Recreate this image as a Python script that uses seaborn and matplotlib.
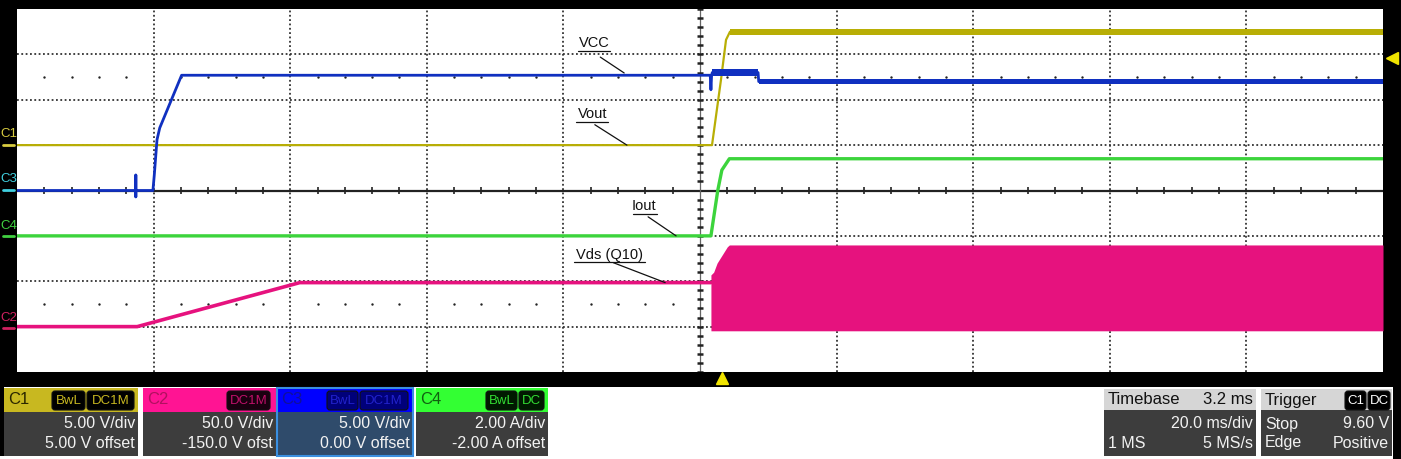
import matplotlib.pyplot as plt
import seaborn as sns
from matplotlib.patches import Rectangle, FancyBboxPatch

sns.set_style("white")
plt.rcParams['font.family'] = ['Liberation Sans', 'DejaVu Sans']

# === scope settings ===
# displayed divisions = (value + offset) / scale
ch_scale = {'C1': 5.0, 'C2': 50.0, 'C3': 5.0, 'C4': 2.0}
ch_offset = {'C1': 5.0, 'C2': -150.0, 'C3': 0.0, 'C4': -2.0}
ms_per_div = 20.0
trig_delay_ms = 3.2
trig_level_v = 9.60

# === traces (time in ms) ===
# C1 - Vout (V)
vout_t = [-100, 1.76, 3.07, 3.81, 4.39, 100]
vout_v = [0.0, 0.0, 7.2, 11.6, 12.5, 12.5]
vout_band_t = [4.4, 100]
vout_band_lo = [12.15, 12.15]
vout_band_hi = [12.85, 12.85]

# C3 - VCC (V)
vcc_t = [-100, -82.6, -82.6, -82.6, -82.6, -80.1, -79.9, -79.5, -79.1, -75.9,
         1.5, 1.6, 1.7, 1.8, 8.5, 8.6, 100]
vcc_v = [0.0, 0.0, 1.7, -0.7, 0.0, 0.0, 1.7, 5.6, 6.9, 12.7,
         12.7, 11.1, 12.7, 13.0, 13.0, 12.0, 12.0]
vcc_band1_t = [1.8, 8.5]
vcc_band1_lo = [12.6, 12.6]
vcc_band1_hi = [13.35, 13.35]
vcc_band2_t = [8.6, 100]
vcc_band2_lo = [11.7, 11.7]
vcc_band2_hi = [12.3, 12.3]

# C4 - Iout (A)
iout_t = [-100, 1.6, 2.6, 3.2, 4.3, 100]
iout_a = [0.0, 0.0, 2.0, 2.9, 3.4, 3.4]

# C2 - Vds (Q10) (V)
vds_t = [-100, -82.4, -58.6, 1.6]
vds_v = [0.0, 0.0, 48.5, 48.5]
sw_t = [1.6, 2.0, 2.5, 4.0, 4.3, 100]
sw_top = [57, 60, 70, 88, 90, 90]
sw_bot = [-4.6, -4.6, -4.6, -4.6, -4.6, -4.6]


def to_div(ch, vals):
    return [(v + ch_offset[ch]) / ch_scale[ch] for v in vals]


col_c1 = '#b8ae05'
col_c2 = '#e6127e'
col_c3 = '#1030c0'
col_c4 = '#3cd43c'

W, H = 1401, 459
fig = plt.figure(figsize=(W / 100, H / 100), dpi=100)
fig.patch.set_facecolor('white')

# === main scope screen ===
ax = fig.add_axes([17 / W, (H - 372) / H, (1383 - 17) / W, (372 - 9) / H])
ax.set_zorder(2)
ax.set_xlim(-5 * ms_per_div, 5 * ms_per_div)
ax.set_ylim(-4, 4)
ax.axis('off')
ax.patch.set_visible(True)
ax.set_facecolor('white')

grid_kw = dict(color='#333333', lw=1.3, ls=(0, (1, 1.4)), zorder=1)
for k in range(-4, 5):
    if k != 0:
        ax.axvline(k * ms_per_div, **grid_kw)
for k in range(-3, 4):
    if k != 0:
        ax.axhline(k, **grid_kw)
ax.axhline(0, color='#222222', lw=1.6, zorder=1)
ax.axvline(0, color='#666666', lw=0.9, zorder=1)

minor_t = [i * ms_per_div / 5 for i in range(-25, 26)]
minor_y = [i / 5 for i in range(-20, 21)]
ax.vlines([t for t in minor_t if t % ms_per_div != 0], -0.08, 0.08, color='#222222', lw=1.2, zorder=1)
ax.hlines([y for y in minor_y if y != 0], -0.45, 0.45, color='#222222', lw=1.8, zorder=1)
dot_t = [t for t in minor_t if t % ms_per_div != 0]
ax.scatter(dot_t, [2.5] * len(dot_t), s=3, color='#222222', zorder=1, linewidths=0)
ax.scatter(dot_t, [-2.5] * len(dot_t), s=3, color='#222222', zorder=1, linewidths=0)

# traces
ax.fill_between(sw_t, to_div('C2', sw_bot), to_div('C2', sw_top), color=col_c2, lw=0, zorder=3)
sns.lineplot(x=vds_t, y=to_div('C2', vds_v), estimator=None, sort=False, ax=ax,
             color=col_c2, lw=2.6, zorder=3)
sns.lineplot(x=iout_t, y=to_div('C4', iout_a), estimator=None, sort=False, ax=ax,
             color=col_c4, lw=2.4, zorder=3)
ax.fill_between(vout_band_t, to_div('C1', vout_band_lo), to_div('C1', vout_band_hi),
                color=col_c1, lw=0, zorder=3)
sns.lineplot(x=vout_t, y=to_div('C1', vout_v), estimator=None, sort=False, ax=ax,
             color=col_c1, lw=1.6, zorder=3)
ax.fill_between(vcc_band1_t, to_div('C3', vcc_band1_lo), to_div('C3', vcc_band1_hi),
                color=col_c3, lw=0, zorder=4)
ax.fill_between(vcc_band2_t, to_div('C3', vcc_band2_lo), to_div('C3', vcc_band2_hi),
                color=col_c3, lw=0, zorder=4)
sns.lineplot(x=vcc_t, y=to_div('C3', vcc_v), estimator=None, sort=False, ax=ax,
             color=col_c3, lw=2.0, zorder=4)

# annotations: (label, text pos, underline x-range, underline y, leader start, leader end)
labels = [
    ('VCC', (-15.5, 3.25), (-17.8, -13.2), 3.08, (-14.6, 2.94), (-11.1, 2.59)),
    ('Vout', (-15.7, 1.69), (-18.2, -13.5), 1.51, (-15.4, 1.45), (-10.7, 1.0)),
    ('Iout', (-8.2, -0.34), (-9.8, -6.3), -0.51, (-7.6, -0.58), (-3.5, -1.0)),
    ('Vds (Q10)', (-13.2, -1.42), (-18.4, -8.0), -1.57, (-12.7, -1.59), (-5.1, -2.03)),
]
for txt, pos, ux, uy, p0, p1 in labels:
    ax.text(pos[0], pos[1], txt, ha='center', va='center', fontsize=10.5, color='#111111', zorder=6)
    ax.plot(ux, [uy, uy], color='#111111', lw=0.9, zorder=6)
    ax.plot([p0[0], p1[0]], [p0[1], p1[1]], color='#111111', lw=0.9, zorder=6)

# trigger markers
ax.plot([101.3], [(trig_level_v + ch_offset['C1']) / ch_scale['C1']], marker='<', ms=9,
        color='#f0e400', mec='#f0e400', clip_on=False, zorder=10)
ax.plot([trig_delay_ms], [-4.13], marker='^', ms=9, color='#f0e400', mec='#f0e400',
        clip_on=False, zorder=10)

# === frame, channel markers and info panel (pixel overlay) ===
ov = fig.add_axes([0, 0, 1, 1])
ov.set_zorder(1)
ov.set_xlim(0, W)
ov.set_ylim(H, 0)
ov.axis('off')
ov.patch.set_visible(False)

for (x0, y0, w, h) in [(0, 0, W, 9), (0, 0, 17, 387), (1383, 0, W - 1383, 387),
                       (0, 372, W, 15), (0, 372, 4, 84), (1393, 372, 8, 87)]:
    ov.add_patch(Rectangle((x0, y0), w, h, color='black', lw=0))

ch_marks = [('C1', '#d8cc40', 134, 145), ('C3', '#40d0e0', 179, 190),
            ('C4', '#40d040', 226, 236), ('C2', '#d02060', 318, 328)]
for name, c, ty, my in ch_marks:
    ov.text(0, ty, name, color=c, fontsize=9.5, ha='left', va='center')
    ov.plot([3, 14], [my, my], color=c, lw=2)

body_col = '#3d3d3d'
hdr_top, hdr_bot, body_bot = 388, 412, 456


def badge(x0, x1, text, bg, fg):
    ov.add_patch(FancyBboxPatch((x0, 391), x1 - x0, 19, boxstyle='round,pad=0,rounding_size=3',
                                fc=bg, ec='#111111', lw=0.8))
    ov.text((x0 + x1) / 2, 401, text, color=fg, fontsize=9.5, ha='center', va='center')


panels = [
    ('C1', 4, 138, '#c8b820', '#2a2600', body_col, [(52, 85, 'BwL'), (87, 134, 'DC1M')],
     '#000000', '#c8b820', '5.00 V/div', '5.00 V offset'),
    ('C2', 143, 276, '#ff1493', '#b0105f', body_col, [(227, 270, 'DC1M')],
     '#1a0010', '#c0106a', '50.0 V/div', '-150.0 V ofst'),
    ('C3', 277, 413, '#0000ff', '#10109a', '#2f4b6b', [(327, 358, 'BwL'), (360, 408, 'DC1M')],
     '#00007a', '#2222cc', '5.00 V/div', '0.00 V offset'),
    ('C4', 416, 548, '#33ff33', '#106010', body_col, [(486, 517, 'BwL'), (519, 544, 'DC')],
     '#001a00', '#33dd33', '2.00 A/div', '-2.00 A offset'),
]
for name, x0, x1, hc, tc, bc, badges, bbg, bfg, l1, l2 in panels:
    ov.add_patch(Rectangle((x0, hdr_bot), x1 - x0, body_bot - hdr_bot, color=bc, lw=0))
    ov.add_patch(Rectangle((x0, hdr_top), x1 - x0, hdr_bot - hdr_top, color=hc, lw=0))
    ov.text(x0 + 4, 400, name, color=tc, fontsize=12, ha='left', va='center')
    for bx0, bx1, bt in badges:
        badge(bx0, bx1, bt, bbg, bfg)
    ov.text(x1 - 3, 424, l1, color='#f2f2f2', fontsize=11.5, ha='right', va='center')
    ov.text(x1 - 3, 443, l2, color='#f2f2f2', fontsize=11.5, ha='right', va='center')
ov.add_patch(Rectangle((277, 388), 136, 68, fill=False, ec='#3a8fe0', lw=1.5))

# timebase / trigger
for x0, x1 in [(1104, 1256), (1261, 1392)]:
    ov.add_patch(Rectangle((x0, 410), x1 - x0, body_bot - 410, color=body_col, lw=0))
    ov.add_patch(Rectangle((x0, 389), x1 - x0, 21, color='#d6d6d6', lw=0))
ov.text(1108, 400, 'Timebase', color='#111111', fontsize=12, ha='left', va='center')
ov.text(1253, 400, '3.2 ms', color='#111111', fontsize=12, ha='right', va='center')
ov.text(1253, 424, '20.0 ms/div', color='#f2f2f2', fontsize=11.5, ha='right', va='center')
ov.text(1108, 443, '1 MS', color='#f2f2f2', fontsize=11.5, ha='left', va='center')
ov.text(1253, 443, '5 MS/s', color='#f2f2f2', fontsize=11.5, ha='right', va='center')
ov.text(1265, 400, 'Trigger', color='#111111', fontsize=12, ha='left', va='center')
badge(1345, 1366, 'C1', '#000000', '#ffffff')
badge(1368, 1390, 'DC', '#000000', '#ffffff')
ov.text(1265, 424, 'Stop', color='#f2f2f2', fontsize=11.5, ha='left', va='center')
ov.text(1389, 424, '9.60 V', color='#f2f2f2', fontsize=11.5, ha='right', va='center')
ov.text(1265, 443, 'Edge', color='#f2f2f2', fontsize=11.5, ha='left', va='center')
ov.text(1389, 443, 'Positive', color='#f2f2f2', fontsize=11.5, ha='right', va='center')

fig.savefig('out.png', dpi=100, facecolor='white')
plt.close(fig)
